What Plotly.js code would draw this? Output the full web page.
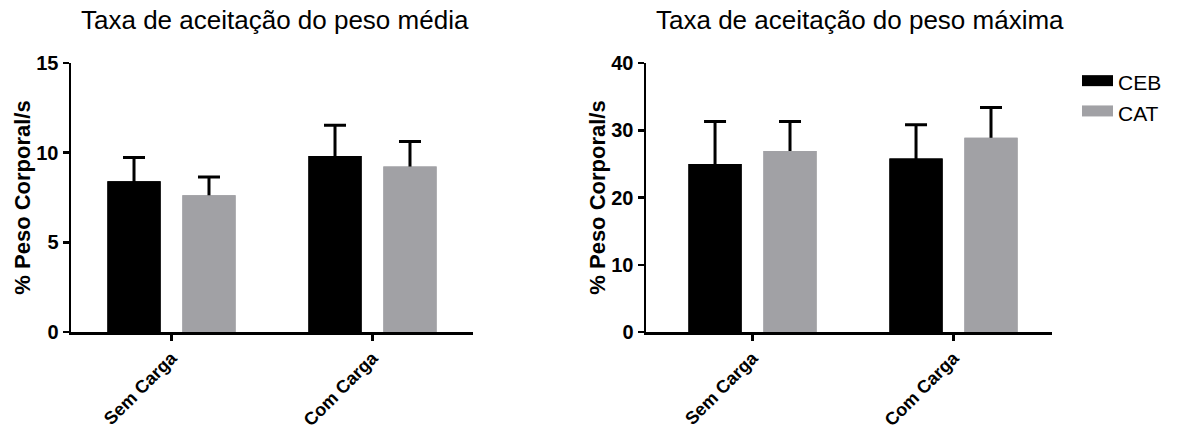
<!DOCTYPE html>
<html>
<head>
<meta charset="utf-8">
<script src="https://cdn.plot.ly/plotly-3.0.1.min.js"></script>
<style>html,body{margin:0;padding:0;background:#fff;}#chart{width:1184px;height:430px;}</style>
</head>
<body>
<div id="chart"></div>
<script>
const categories = ["Sem Carga", "Com Carga"];
const seriesNames = ["CEB", "CAT"];
const mediaCEB = [8.41, 9.82];
const mediaCEBErr = [1.32, 1.71];
const mediaCAT = [7.63, 9.23];
const mediaCATErr = [1.02, 1.39];
const maxCEB = [25.0, 25.8];
const maxCEBErr = [6.3, 5.0];
const maxCAT = [26.9, 28.9];
const maxCATErr = [4.4, 4.5];
const titles = ["Taxa de aceitação do peso média", "Taxa de aceitação do peso máxima"];
const yTitle = "% Peso Corporal/s";

const colors = ["#000000", "#a1a1a5"];
const FONT = "Liberation Sans, Arial, sans-serif";
const W = 1184, H = 430;
const plotH = 332 - 63;
const yRanges = [[0, 15], [0, 40]];

// bar with upward-only error bar; the lower end of the error bar is tucked
// inside the bar and hidden by a copy of the bar drawn on top of it
function barPair(name, y, err, color, xa, ya, range) {
  const tuck = 3 * (range[1] - range[0]) / plotH;
  const withErr = {
    type: "bar", name: name, x: categories, y: y, offsetgroup: name,
    xaxis: xa, yaxis: ya, showlegend: false,
    marker: {color: color, line: {width: 0}},
    error_y: {type: "data", array: err, arrayminus: err.map(() => tuck), symmetric: false,
              color: "#000", thickness: 3, width: 11},
    hoverinfo: "none"
  };
  const cover = {
    type: "bar", name: name, x: categories, y: y, offsetgroup: name,
    xaxis: xa, yaxis: ya, showlegend: false,
    marker: {color: color, line: {width: 0}}, hoverinfo: "none"
  };
  return [withErr, cover];
}

function legendTrace(name, color) {
  return {
    type: "scatter", mode: "lines", name: name, x: [null], y: [null],
    xaxis: "x", yaxis: "y", fill: "toself", fillcolor: color,
    line: {color: color, width: 10}, hoverinfo: "none", showlegend: true
  };
}

const data = [].concat(
  barPair(seriesNames[0], mediaCEB, mediaCEBErr, colors[0], "x", "y", yRanges[0]),
  barPair(seriesNames[1], mediaCAT, mediaCATErr, colors[1], "x", "y", yRanges[0]),
  barPair(seriesNames[0], maxCEB, maxCEBErr, colors[0], "x2", "y2", yRanges[1]),
  barPair(seriesNames[1], maxCAT, maxCATErr, colors[1], "x2", "y2", yRanges[1]),
  [legendTrace(seriesNames[0], colors[0]), legendTrace(seriesNames[1], colors[1])]
);

function xAxis(l, r, range, anchor) {
  return {
    domain: [l / W, r / W], range: range, type: "category", anchor: anchor,
    showline: true, linecolor: "#000", linewidth: 2.5,
    ticks: "outside", ticklen: 6, tickwidth: 2.5, tickcolor: "#000",
    tickangle: -45, showgrid: false, zeroline: false, fixedrange: true,
    tickfont: {family: FONT, size: 18, color: "#000", weight: "bold"}
  };
}
function yAxis(anchor, range, dtick) {
  return {
    domain: [(H - 332) / H, (H - 63) / H], range: range, dtick: dtick, anchor: anchor,
    showline: true, linecolor: "#000", linewidth: 2.5,
    ticks: "outside", ticklen: 6, tickwidth: 2.5, tickcolor: "#000",
    showgrid: false, zeroline: false, fixedrange: true,
    tickfont: {family: FONT, size: 20, color: "#000", weight: "bold"},
    title: {text: yTitle, font: {family: FONT, size: 22, color: "#000", weight: "bold"}, standoff: 0}
  };
}

const layout = {
  width: W, height: H,
  margin: {l: 0, r: 0, t: 0, b: 0},
  paper_bgcolor: "#fff", plot_bgcolor: "#fff",
  barmode: "group", bargap: 0.254, bargroupgap: 0.29,
  xaxis: xAxis(71, 473, [-0.5, 1.5], "y"),
  yaxis: yAxis("x", yRanges[0], 5),
  xaxis2: xAxis(646, 1052, [-0.53, 1.49], "y2"),
  yaxis2: yAxis("x2", yRanges[1], 10),
  showlegend: true,
  legend: {x: 1077 / W, y: (H - 62) / H, xanchor: "left", yanchor: "top",
           font: {family: FONT, size: 21, color: "#000"}, bgcolor: "rgba(0,0,0,0)",
           itemwidth: 31, tracegroupgap: 0},
  annotations: [
    {text: titles[0], x: 275 / W, y: (H - 20) / H, xref: "paper", yref: "paper",
     xanchor: "center", yanchor: "middle", showarrow: false,
     font: {family: FONT, size: 26, color: "#000"}},
    {text: titles[1], x: 860 / W, y: (H - 20) / H, xref: "paper", yref: "paper",
     xanchor: "center", yanchor: "middle", showarrow: false,
     font: {family: FONT, size: 26, color: "#000"}}
  ]
};

Plotly.newPlot("chart", data, layout, {displayModeBar: false, staticPlot: true});
</script>
</body>
</html>
